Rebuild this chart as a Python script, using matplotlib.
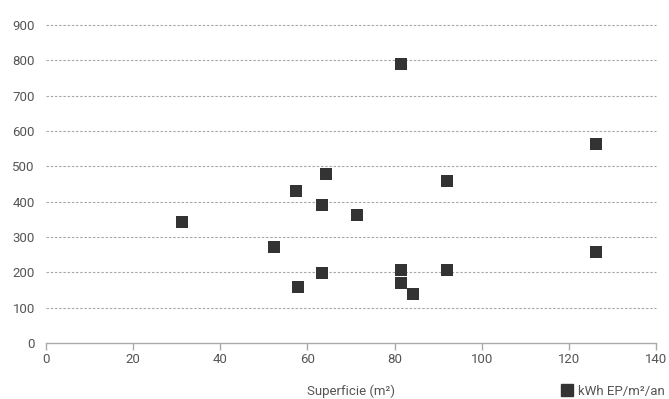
import matplotlib.pyplot as plt
from matplotlib.lines import Line2D

# Superficie (m²) vs consommation (kWh EP/m²/an)
surface = [31.2, 52.4, 57.4, 57.9, 63.4, 63.4, 64.3, 71.4, 81.5, 81.5, 81.5, 84.3, 92.0, 92.0, 126.2, 126.2]
conso = [342, 271, 429, 158, 390, 197, 478, 361, 789, 206, 171, 138, 458, 207, 563, 258]

x_ticks = [0, 20, 40, 60, 80, 100, 120, 140]
y_ticks = [0, 100, 200, 300, 400, 500, 600, 700, 800, 900]

plt.rcParams['font.family'] = ['Roboto', 'DejaVu Sans']
txt_color = '#555555'
mark_color = '#333333'

fig = plt.figure(figsize=(6.69, 3.99), dpi=100)
ax = fig.add_axes([0.0688, 0.1404, 0.9118, 0.7969])

ax.scatter(surface, conso, marker='s', s=85, color=mark_color, linewidths=0, zorder=3, clip_on=False)

ax.set_xlim(0, 140)
ax.set_ylim(0, 900)
ax.set_xticks(x_ticks)
ax.set_yticks(y_ticks)

for y in y_ticks[1:]:
    ax.axhline(y, color='#a8a8a8', linestyle=(0, (2.2, 1.6)), linewidth=0.8, zorder=1, clip_on=False)

for s in ['top', 'right', 'left']:
    ax.spines[s].set_visible(False)
ax.spines['bottom'].set_color('#aaaaaa')
ax.spines['bottom'].set_linewidth(1.0)

ax.tick_params(axis='x', colors='#aaaaaa', length=5, width=1, direction='out', labelcolor=txt_color, labelsize=9.5, pad=2)
ax.tick_params(axis='y', length=0, labelcolor=txt_color, labelsize=9.5, pad=8)

fig.text(0.525, 0.003, 'Superficie (m²)', ha='center', va='bottom', color=txt_color, fontsize=9.5)
leg_handle = Line2D([], [], marker='s', linestyle='none', color=mark_color, markersize=9)
fig.legend([leg_handle], ['kWh EP/m²/an'], loc='lower right', bbox_to_anchor=(1.012, -0.027),
           frameon=False, fontsize=9.5, handletextpad=0.3, handlelength=1.2, labelcolor=txt_color)

fig.savefig('out.png', dpi=100)
